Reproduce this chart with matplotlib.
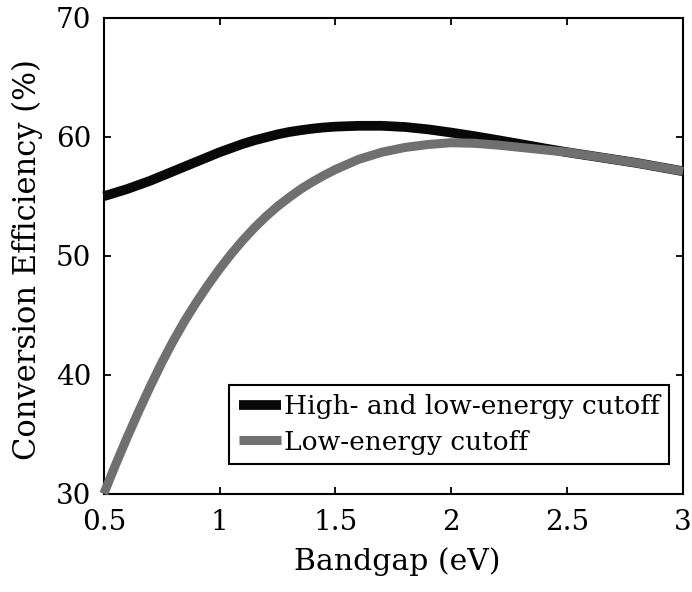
import matplotlib
matplotlib.use("Agg")
import matplotlib.pyplot as plt

plt.rcParams['font.family'] = ['DejaVu Serif']

# bandgap (eV)
bandgap = [0.50, 0.55, 0.60, 0.65, 0.70, 0.75, 0.80, 0.85, 0.90, 0.95,
           1.00, 1.05, 1.10, 1.15, 1.20, 1.25, 1.30, 1.35, 1.40, 1.45,
           1.50, 1.60, 1.70, 1.80, 1.90, 2.00, 2.10, 2.20, 2.30, 2.40,
           2.50, 2.60, 2.70, 2.80, 2.90, 3.00]

# conversion efficiency (%), both cutoffs
eff_high_low = [55.0, 55.3, 55.6, 55.95, 56.3, 56.7, 57.1, 57.5, 57.9, 58.3,
                58.7, 59.05, 59.4, 59.7, 59.95, 60.2, 60.4, 60.55, 60.68, 60.78,
                60.85, 60.92, 60.92, 60.82, 60.62, 60.35, 60.05, 59.72, 59.38,
                59.03, 58.7, 58.4, 58.1, 57.8, 57.45, 57.1]

# conversion efficiency (%), low-energy cutoff only
eff_low = [30.0, 32.4, 34.7, 36.9, 39.0, 41.0, 42.85, 44.55, 46.1, 47.55,
           48.9, 50.15, 51.3, 52.35, 53.3, 54.15, 54.9, 55.6, 56.2, 56.75,
           57.25, 58.1, 58.7, 59.1, 59.35, 59.5, 59.45, 59.3, 59.1, 58.9,
           58.7, 58.4, 58.1, 57.8, 57.45, 57.1]

labels = ["High- and low-energy cutoff", "Low-energy cutoff"]

fig, ax = plt.subplots(figsize=(6.92, 5.92), dpi=100)
fig.subplots_adjust(left=0.150, right=0.987, bottom=0.166, top=0.970)

ax.plot(bandgap, eff_high_low, color='#080808', lw=7, label=labels[0],
        solid_capstyle='butt', solid_joinstyle='round', clip_on=False,
        zorder=3)
ax.plot(bandgap, eff_low, color='#707070', lw=6.5, label=labels[1],
        solid_capstyle='butt', solid_joinstyle='round', clip_on=False,
        zorder=4)

ax.set_xlim(0.5, 3)
ax.set_ylim(30, 70)
ax.set_xticks([0.5, 1, 1.5, 2, 2.5, 3])
ax.set_xticklabels(["0.5", "1", "1.5", "2", "2.5", "3"])
ax.set_yticks([30, 40, 50, 60, 70])

for s in ax.spines.values():
    s.set_linewidth(1.5)
ax.tick_params(direction='in', length=5, width=1.3, top=True, right=True,
               labelsize=20)
ax.tick_params(axis='x', pad=11)
ax.tick_params(axis='y', pad=9)

ax.set_xlabel("Bandgap (eV)", fontsize=21.5)
ax.set_ylabel("Conversion Efficiency (%)", fontsize=22)
ax.xaxis.set_label_coords(0.507, -0.113)
ax.yaxis.set_label_coords(-0.105, 0.492)

leg = ax.legend(loc='lower right', bbox_to_anchor=(0.976, 0.063),
                borderaxespad=0, fancybox=False, edgecolor='black',
                fontsize=19, handlelength=1.6, handletextpad=0.12,
                borderpad=0.35, labelspacing=0.4, framealpha=1)
leg.get_frame().set_linewidth(1.5)

fig.savefig("out.png", dpi=100)
